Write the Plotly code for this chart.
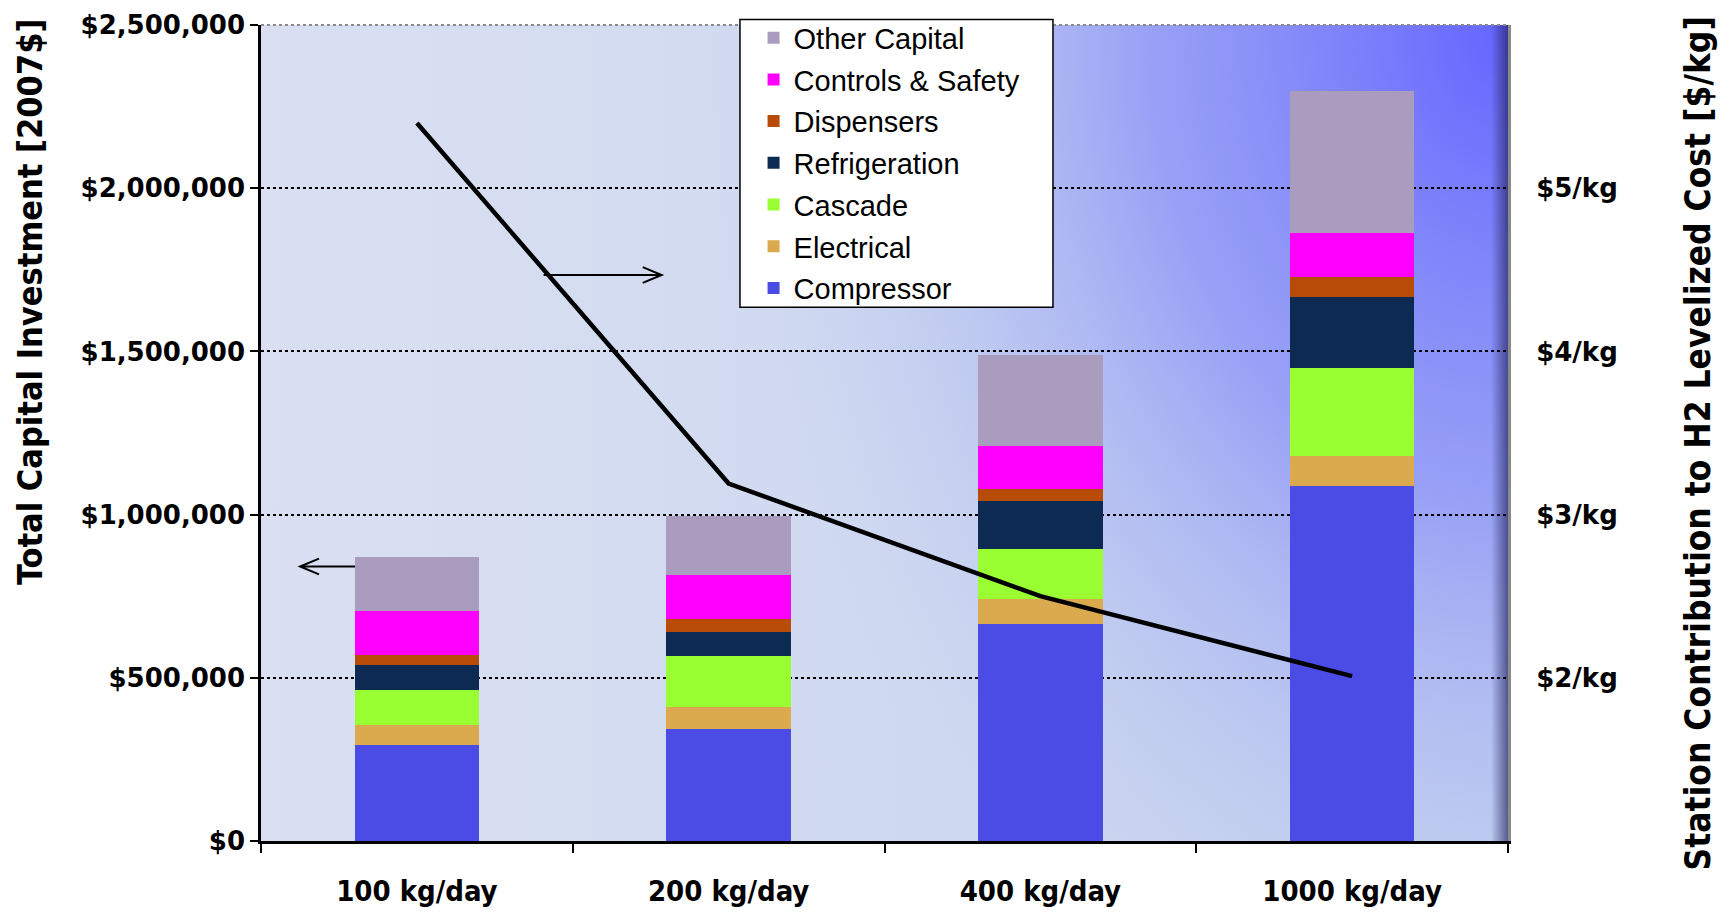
import base64
import plotly.graph_objects as go

# data
categories = ["100 kg/day", "200 kg/day", "400 kg/day", "1000 kg/day"]
compressor = [293000, 342000, 666000, 1087000]
electrical = [63000, 69000, 74000, 94000]
cascade = [107000, 156000, 155000, 267000]
refrigeration = [75000, 74000, 146000, 220000]
dispensers = [32000, 39000, 38000, 61000]
controls_safety = [135000, 135000, 132000, 135000]
other_capital = [165000, 181000, 279000, 434000]
levelized_cost = [5.40, 3.19, 2.50, 2.01]

left_tickvals = [0, 500000, 1000000, 1500000, 2000000, 2500000]
left_ticktext = ["$0", "$500,000", "$1,000,000", "$1,500,000", "$2,000,000", "$2,500,000"]
right_tickvals = [2, 3, 4, 5]
right_ticktext = ["$2/kg", "$3/kg", "$4/kg", "$5/kg"]

series = [
    ("Compressor", compressor, "#4b4be6"),
    ("Electrical", electrical, "#dcaa4e"),
    ("Cascade", cascade, "#99ff33"),
    ("Refrigeration", refrigeration, "#0c2a52"),
    ("Dispensers", dispensers, "#b84c06"),
    ("Controls & Safety", controls_safety, "#ff00ff"),
    ("Other Capital", other_capital, "#aa9cbf"),
]

# gradient background for the plot area
svg = """<svg xmlns='http://www.w3.org/2000/svg' width='1247' height='819' viewBox='0 0 1247 819' preserveAspectRatio='none'>
<defs>
<linearGradient id='b' x1='0' y1='0' x2='1' y2='0'>
<stop offset='0' stop-color='#dae0f2'/>
<stop offset='1' stop-color='#c4d2ee'/>
</linearGradient>
<radialGradient id='g' gradientUnits='userSpaceOnUse' cx='1247' cy='0' r='950'
 gradientTransform='translate(1247,0) scale(0.85,1.12) translate(-1247,0)'>
<stop offset='0' stop-color='#6464ff' stop-opacity='1'/>
<stop offset='0.45' stop-color='#8890f8' stop-opacity='0.75'/>
<stop offset='1' stop-color='#c4d0ee' stop-opacity='0'/>
</radialGradient>
<linearGradient id='s' x1='0' y1='0' x2='1' y2='0'>
<stop offset='0' stop-color='#20205a' stop-opacity='0'/>
<stop offset='1' stop-color='#20205a' stop-opacity='0.65'/>
</linearGradient>
</defs>
<rect width='1247' height='819' fill='url(#b)'/>
<rect width='1247' height='819' fill='url(#g)'/>
<rect x='1230' width='17' height='819' fill='url(#s)'/>
</svg>"""
bg_src = "data:image/svg+xml;base64," + base64.b64encode(svg.encode()).decode()

fig = go.Figure()

for i, (name, vals, color) in enumerate(series):
    fig.add_trace(go.Bar(x=categories, y=vals, name=name, legendgroup=name,
                         legendrank=len(series) - i,
                         marker=dict(color=color, line=dict(width=0)), width=0.4))

fig.add_trace(go.Scatter(x=categories, y=levelized_cost, yaxis="y2", mode="lines",
                         line=dict(color="black", width=4.5), showlegend=False))

tick_font = dict(family="DejaVu Sans", size=26, color="black", weight="bold")
narrow = "Liberation Sans Narrow, DejaVu Sans Condensed, Arial Narrow"

fig.update_layout(
    width=1729, height=912,
    barmode="stack",
    paper_bgcolor="white",
    plot_bgcolor="rgba(0,0,0,0)",
    margin=dict(l=253, r=229, t=17, b=79, autoexpand=False),
    images=[dict(source=bg_src, xref="paper", yref="paper", x=0, y=1, sizex=1, sizey=1,
                 sizing="stretch", layer="below")],
    xaxis=dict(showline=True, linecolor="black", linewidth=2.5, ticks="outside", ticklen=9,
               tickwidth=2, tickcolor="black", tickson="boundaries", showgrid=False,
               automargin=False,
               tickfont=dict(family=narrow, size=29, color="black", weight="bold"),
               ticklabelstandoff=22),
    yaxis=dict(range=[0, 2500000], tickvals=left_tickvals, ticktext=left_ticktext,
               showline=True, linecolor="black", linewidth=2.5, ticks="outside", ticklen=8,
               tickwidth=2, tickcolor="black", showgrid=True, gridcolor="black", gridwidth=1.5,
               griddash="dot", zeroline=False, tickfont=tick_font, ticklabelstandoff=0,
               ticklabeloverflow="allow", automargin=False),
    yaxis2=dict(range=[1, 6], overlaying="y", side="right", tickvals=right_tickvals,
                ticktext=right_ticktext, showgrid=False, zeroline=False, showline=True,
                linecolor="#8a8a8a", linewidth=3, ticks="", tickfont=tick_font,
                ticklabelstandoff=20, ticklabeloverflow="allow", automargin=False),
    legend=dict(x=0.395, y=1.0155, xanchor="left", yanchor="top", bgcolor="rgba(0,0,0,0)",
                borderwidth=0, traceorder="grouped", tracegroupgap=1,
                font=dict(family="Liberation Sans", size=29, color="black")),
    annotations=[
        dict(text="Total Capital Investment [2007$]", xref="paper", yref="paper",
             x=-0.1853, y=0.6606, xanchor="center", yanchor="middle", textangle=-90,
             showarrow=False, font=dict(family=narrow, size=34, color="black", weight="bold")),
        dict(text="Station Contribution to H2 Levelized Cost [$/kg]", xref="paper", yref="paper",
             x=1.1524, y=0.4872, xanchor="center", yanchor="middle", textangle=-90,
             showarrow=False, font=dict(family=narrow, size=35, color="black", weight="bold")),
    ],
    shapes=[
        # gray top edge of the plot area
        dict(type="line", xref="paper", yref="paper", x0=0, x1=1, y0=1, y1=1,
             line=dict(color="#8a8a8a", width=2, dash="dot")),
        # legend box
        dict(type="rect", xref="paper", yref="paper", x0=0.3841, x1=0.6351, y0=0.654, y1=1.0067,
             fillcolor="white", line=dict(color="black", width=1.5), layer="above"),
        # arrow pointing to right axis
        dict(type="path", xref="paper", yref="y",
             path="M0.2266,1734000 L0.3213,1734000 M0.3061,1758000 L0.3213,1734000 L0.3061,1710000",
             line=dict(color="black", width=2), layer="above"),
        # arrow pointing to left axis
        dict(type="path", xref="paper", yref="y",
             path="M0.0754,841000 L0.0313,841000 M0.0465,865000 L0.0313,841000 L0.0465,817000",
             line=dict(color="black", width=2), layer="above"),
    ],
)

fig.write_html("out.html")
